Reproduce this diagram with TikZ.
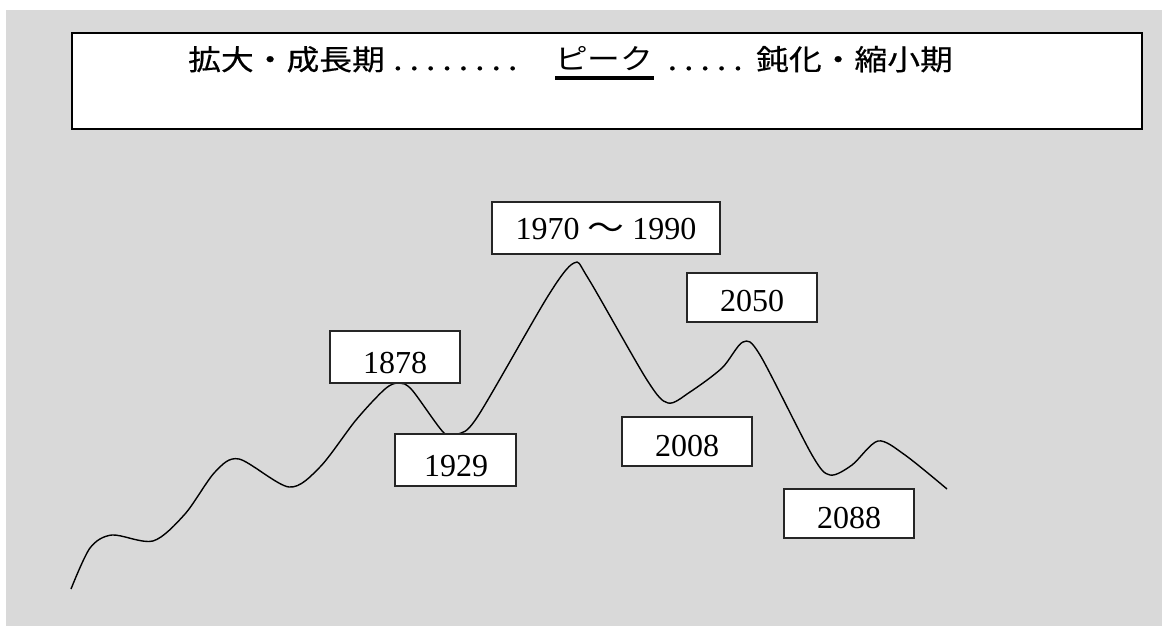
\documentclass[tikz,border=0pt]{standalone}
\usepackage{fontspec}
\setmainfont{Liberation Serif}
\newfontfamily\jp[FakeStretch=1.15]{Noto Sans CJK JP}
\newfontfamily\jpb[FakeStretch=1.15,FakeBold=0.5]{Noto Sans CJK JP}
\newcommand\onedot{\makebox[16.4bp]{.}}
\definecolor{bggray}{HTML}{D9D9D9}
\begin{document}
\begin{tikzpicture}[x=1bp,y=-1bp,
  yrbox/.style={draw=black!85, line width=1.3bp, fill=white, inner sep=0pt},
  yrtxt/.style={inner sep=0pt, anchor=base, font=\fontsize{32bp}{36bp}\selectfont},
  ttl/.style={inner sep=0pt, anchor=base west, font=\jpb\fontsize{28.5bp}{32bp}\selectfont},
  curve/.style={line width=1.4bp, black, line join=round}]
\useasboundingbox (0,0) rectangle (1162,626);
\fill[white] (0,0) rectangle (1162,626);
\fill[bggray] (6,10) rectangle (1162,626);
% title box
\node[draw=black, line width=1.6bp, fill=white, minimum width=1070bp, minimum height=96bp, inner sep=0pt, anchor=north west] (title) at (71,32) {};
\node[ttl] (t1) at (188,70) {拡大・成長期};
\node[ttl] (t2) at (389.5,70) {\onedot\onedot\onedot\onedot\onedot\onedot\onedot\onedot};
\node[ttl, font=\jp\fontsize{28.5bp}{32bp}\selectfont] (pk) at (555,70) {ピーク};
\draw[line width=3.2bp] ([yshift=-8bp]pk.base west) -- ([yshift=-8bp]pk.base east);
\node[ttl] (t3) at (664,70) {\onedot\onedot\onedot\onedot\onedot};
\node[ttl] (t4) at (756,70) {鈍化・縮小期};
% curve
\draw[curve] plot[smooth, tension=0.5] coordinates {
 (71,589) (90,548) (112,535) (153,541) (185,514) (215,472) (239,459)
 (289,487) (320,467) (356,420) (385,389) (399,383) (412,390)
 (444,433) (458,434) (478,416) (548,296) (574,263) (588,278) (647,380)
 (668,403) (690,392) (722,368) (743,342) (760,355) (812,455) (830,475)
 (852,465) (878,441) (905,455) (947,489)};
% year boxes
\node[yrbox, minimum width=228bp, minimum height=52bp] (b1970) at (606,228) {};
\node[yrtxt] (t1970) at (606,240) {1970 {\jp 〜} 1990};
\node[yrbox, minimum width=130bp, minimum height=52bp] (b1878) at (395,357) {};
\node[yrtxt] (t1878) at (395,373) {1878};
\node[yrbox, minimum width=121bp, minimum height=52bp] (b1929) at (455.5,460) {};
\node[yrtxt] (t1929) at (456,476) {1929};
\node[yrbox, minimum width=130bp, minimum height=49bp] (b2050) at (752,297.5) {};
\node[yrtxt] (t2050) at (752,312) {2050};
\node[yrbox, minimum width=130bp, minimum height=49bp] (b2008) at (687,441.5) {};
\node[yrtxt] (t2008) at (687,456) {2008};
\node[yrbox, minimum width=130bp, minimum height=49bp] (b2088) at (849,513.5) {};
\node[yrtxt] (t2088) at (849,528) {2088};
\end{tikzpicture}
\end{document}
